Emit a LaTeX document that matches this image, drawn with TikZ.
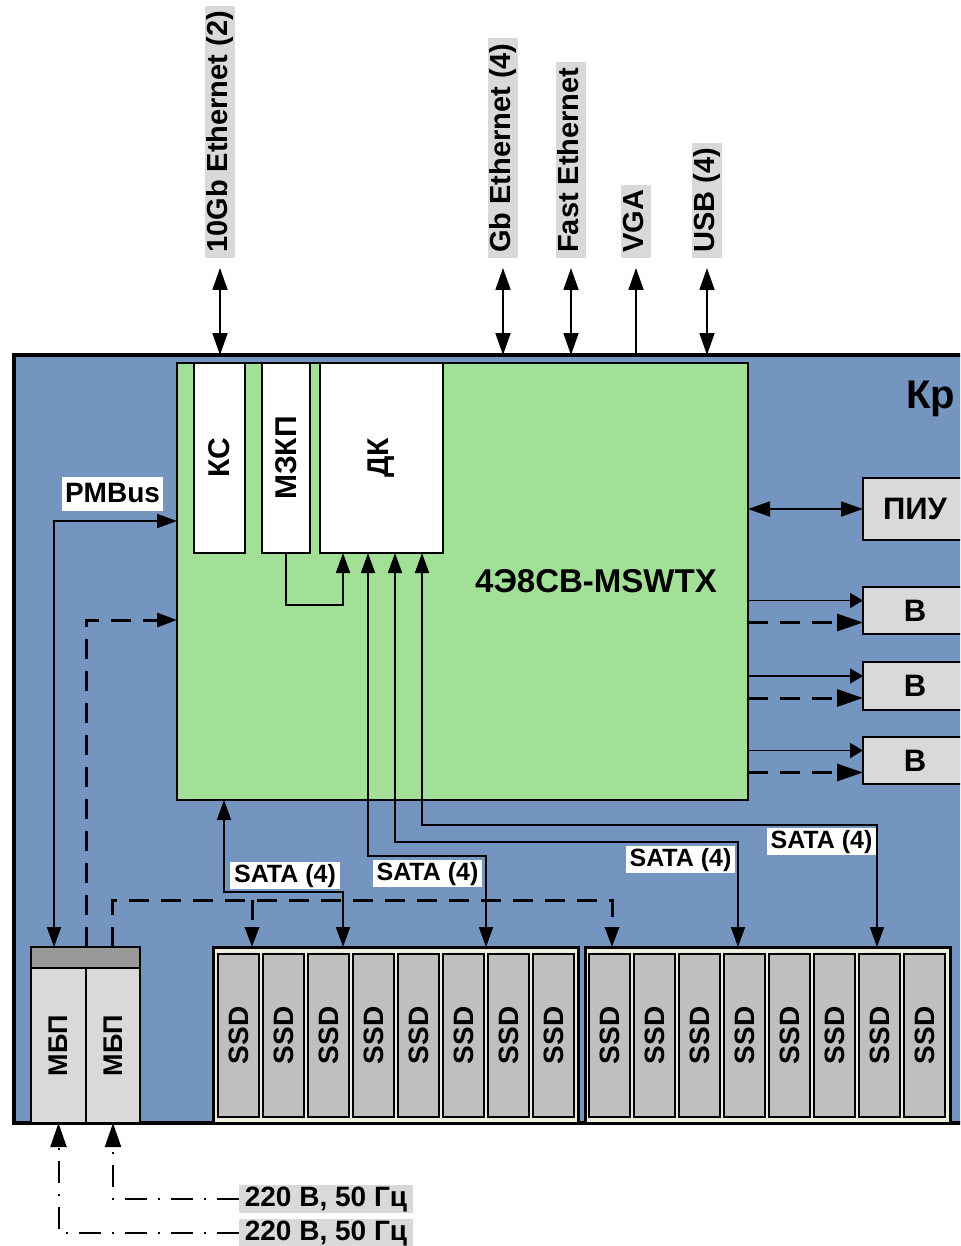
\documentclass[tikz,border=0pt]{standalone}
\usepackage{fontspec}
\setmainfont{Liberation Sans}
\usetikzlibrary{arrows.meta}
\definecolor{chassisblue}{RGB}{115,149,192}
\definecolor{boardgreen}{RGB}{161,224,150}
\definecolor{lgray}{RGB}{217,217,217}
\definecolor{slotgray}{RGB}{191,191,191}
\definecolor{darkstrip}{RGB}{153,153,153}
\definecolor{encfill}{RGB}{238,238,222}
\newcommand{\myfs}[1]{\fontsize{#1}{#1}\selectfont\bfseries}
\tikzset{
  blk/.style={draw, line width=2.5pt, inner sep=0pt, outer sep=0pt, anchor=north west},
  slotbox/.style={blk, fill=slotgray, minimum width=41pt, minimum height=163pt},
  encbox/.style={blk, line width=3pt, fill=encfill, minimum width=365pt, minimum height=176pt},
  txt/.style={inner sep=0pt},
  toplbl/.style={fill=lgray, inner xsep=5pt, inner ysep=1.5pt, text height=21pt, text depth=6pt, font=\myfs{29}},
  pwlbl/.style={fill=lgray, inner xsep=6pt, inner ysep=1pt, text height=20pt, text depth=6pt, font=\myfs{28}},
  satalbl/.style={fill=white, inner xsep=4pt, inner ysep=2pt, text height=18pt, text depth=5pt, font=\myfs{25}},
  conn/.style={line width=1.8pt},
  dsh/.style={line width=3pt, dash pattern=on 20pt off 12pt},
  dd/.style={line width=2pt, dash pattern=on 22pt off 11pt on 2pt off 11pt},
  ta/.tip={Triangle[length=20pt,width=14pt]},
  tt/.tip={Triangle[length=22pt,width=15pt]},
  tbs/.tip={Triangle[length=13pt,width=15pt]},
  tbd/.tip={Triangle[length=26pt,width=17pt]},
  tp/.tip={Triangle[length=24pt,width=16pt]}
}
\begin{document}
\begin{tikzpicture}[x=1pt,y=-1pt]
\useasboundingbox (0,0) rectangle (960,1246);
\clip (0,0) rectangle (960,1246);

% chassis
\node[blk, line width=4.5pt, fill=chassisblue, minimum width=1000pt, minimum height=768pt] (ch) at (14,355) {};
\node[anchor=base west, txt, font=\myfs{40}] (kr) at (906,408) {Кр};

% board
\node[blk, fill=boardgreen, minimum width=571pt, minimum height=437pt] (gr) at (177,363) {};
\node[anchor=base, txt, font=\myfs{33}] (grt) at (596,592) {4Э8СВ-MSWTX};

\node[blk, fill=white, minimum width=51pt, minimum height=190pt] (kc) at (194,363) {};
\node[txt, rotate=90, font=\myfs{30}] (kct) at (kc.center) {КС};
\node[blk, fill=white, minimum width=48pt, minimum height=190pt] (mz) at (262,363) {};
\node[txt, rotate=90, font=\myfs{30}] (mzt) at (mz.center) {МЗКП};
\node[blk, fill=white, minimum width=123pt, minimum height=190pt] (dk) at (320,363) {};
\node[txt, rotate=90, font=\myfs{30}] (dkt) at (dk.center) {ДК};

% right boxes
\node[blk, fill=lgray, minimum width=104pt, minimum height=62pt, font=\myfs{31}] (piu) at (863,478) {ПИУ};
\node[blk, fill=lgray, minimum width=104pt, minimum height=47pt, font=\myfs{31}] (b1) at (863,587) {В};
\node[blk, fill=lgray, minimum width=104pt, minimum height=48pt, font=\myfs{31}] (b2) at (863,662) {В};
\node[blk, fill=lgray, minimum width=104pt, minimum height=47pt, font=\myfs{31}] (b3) at (863,737) {В};

% power supply modules
\node[blk, fill=darkstrip, minimum width=109pt, minimum height=21pt] (mbps) at (31,947) {};
\node[blk, fill=lgray, minimum width=55pt, minimum height=155pt] (mbp1) at (31,968) {};
\node[blk, fill=lgray, minimum width=54pt, minimum height=155pt] (mbp2) at (86,968) {};
\node[txt, rotate=90, font=\myfs{27}] (mbp1t) at (mbp1.center) {МБП};
\node[txt, rotate=90, font=\myfs{27}] (mbp2t) at (mbp2.center) {МБП};

% SSD enclosures
\node[encbox] (enc1) at (213,947) {};
\node[encbox] (enc2) at (585,947) {};
\foreach \i in {0,...,7} {
  \node[slotbox] (sa\i) at ({218+45*\i},954) {};
  \node[txt, rotate=90, font=\myfs{28}] (sat\i) at (sa\i.center) {SSD};
  \node[slotbox] (sb\i) at ({589+45*\i},954) {};
  \node[txt, rotate=90, font=\myfs{28}] (sbt\i) at (sb\i.center) {SSD};
}

% top interface labels
\node[toplbl, rotate=90, anchor=west] (l1) at (220,258) {10Gb Ethernet (2)};
\node[toplbl, rotate=90, anchor=west] (l2) at (503,258) {Gb Ethernet (4)};
\node[toplbl, rotate=90, anchor=west] (l3) at (571,258) {Fast Ethernet};
\node[toplbl, rotate=90, anchor=west] (l4) at (636,258) {VGA};
\node[toplbl, rotate=90, anchor=west] (l5) at (707,258) {USB (4)};

\draw[conn, tt-tt] ([yshift=-10pt]l1.west) -- (l1.west |- ch.north);
\draw[conn, tt-tt] ([yshift=-10pt]l2.west) -- (l2.west |- ch.north);
\draw[conn, tt-tt] ([yshift=-10pt]l3.west) -- (l3.west |- ch.north);
\draw[conn, -tt] (l4.west |- ch.north) -- ([yshift=-10pt]l4.west);
\draw[conn, tt-tt] ([yshift=-10pt]l5.west) -- (l5.west |- ch.north);

% right side connectors
\draw[conn, tt-tt] (gr.east |- piu.west) -- (piu.west);
\foreach \b in {b1,b2,b3} {
  \coordinate (\b s) at ([yshift=10pt]\b.west);
  \coordinate (\b d) at ([yshift=-12pt]\b.west);
  \draw[conn, -tbs] (\b s -| gr.east) -- (\b s);
  \draw[dsh, -tbd] (\b d -| gr.east) -- (\b d);
}

% PMBus
\coordinate (pm) at (54,521);
\draw[conn, ta-ta] (pm |- mbps.north) -- (pm) -- (pm -| gr.west);
\node[fill=white, inner xsep=3pt, inner ysep=4pt, text height=21pt, text depth=5pt, font=\myfs{28}] (pmb) at (112.5,494) {PMBus};

% dashed power control lines
\coordinate (d1) at (86,620);
\draw[dsh, -ta] (d1 |- mbps.north) -- (d1) -- (d1 -| gr.west);
\coordinate (d2) at (112,900);
\coordinate (d2r) at (612,900);
\coordinate (d2b) at (252,900);
\draw[dsh, -ta] (d2 |- mbps.north) -- (d2) -- (d2r) -- (d2r |- enc2.north);
\draw[dsh, -ta] (d2b) -- (d2b |- enc1.north);

% MZKP -> DK
\coordinate (m1) at (343,605);
\draw[conn, -ta] (mz.south) -- (mz.south |- m1) -- (m1) -- (m1 |- dk.south);

% SATA links
\coordinate (s1a) at (224,892);
\coordinate (s1b) at (343,892);
\draw[conn, ta-ta] (s1a |- gr.south) -- (s1a) -- (s1b) -- (s1b |- enc1.north);
\coordinate (s2a) at (368,856);
\coordinate (s2b) at (486,856);
\draw[conn, ta-ta] (s2a |- dk.south) -- (s2a) -- (s2b) -- (s2b |- enc1.north);
\coordinate (s3a) at (395,842);
\coordinate (s3b) at (738,842);
\draw[conn, ta-ta] (s3a |- dk.south) -- (s3a) -- (s3b) -- (s3b |- enc2.north);
\coordinate (s4a) at (422,825);
\coordinate (s4b) at (877,825);
\draw[conn, ta-ta] (s4a |- dk.south) -- (s4a) -- (s4b) -- (s4b |- enc2.north);

\node[satalbl] (sl1) at (285,875.5) {SATA (4)};
\node[satalbl] (sl2) at (427.5,873.5) {SATA (4)};
\node[satalbl] (sl3) at (680.5,859.5) {SATA (4)};
\node[satalbl] (sl4) at (821.5,841.5) {SATA (4)};

% mains inputs
\node[pwlbl] (pw1) at (326,1199) {220 В, 50 Гц};
\node[pwlbl] (pw2) at (326,1233) {220 В, 50 Гц};
\draw[dd, -tp] (pw1.west) -- (pw1.west -| mbp2.south) -- (mbp2.south);
\draw[dd, -tp] (pw2.west) -- (pw2.west -| mbp1.south) -- (mbp1.south);
\end{tikzpicture}
\end{document}
